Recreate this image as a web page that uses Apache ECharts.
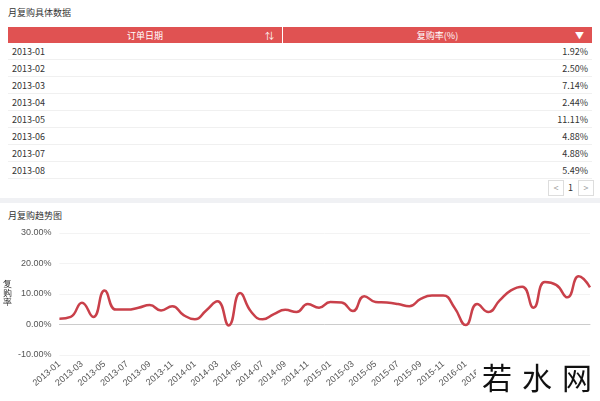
<!DOCTYPE html>
<html><head><meta charset="utf-8">
<script src="https://cdn.jsdelivr.net/npm/echarts@6/dist/echarts.min.js"></script>
<style>
body{margin:0;width:600px;height:401px;background:#f0f1f4;font-family:"Noto Sans CJK SC","Noto Sans",sans-serif;overflow:hidden;position:relative}
#top{position:absolute;left:0;top:0;width:600px;height:198px;background:#fff}
#bot{position:absolute;left:0;top:203px;width:600px;height:198px;background:#fff}
.title{position:absolute;left:8px;font-size:9px;color:#333}
table{position:absolute;left:8px;top:27px;width:584px;border-collapse:collapse;font-size:9px;color:#333}
th{background:#e05252;color:#fff;font-weight:normal;height:16px;padding:0 6px;position:relative}
td{height:16px;padding:0 4px;border-bottom:1px solid #f0f0f0}
td.v{text-align:right}
.pg{position:absolute;top:180px;font-size:9px;color:#999;width:14px;height:14px;border:1px solid #ddd;text-align:center;line-height:14px}
#chart{position:absolute;left:0;top:220px;width:600px;height:181px}
#wm{position:absolute;left:476px;top:358px;width:124px;height:43px;background:#fff;font-size:30px;letter-spacing:10px;color:#111;font-family:"Noto Sans CJK SC";line-height:36px;white-space:nowrap;padding-left:6px;box-sizing:border-box}
</style></head><body>
<div id="top">
<div class="title" style="top:6px">月复购具体数据</div>
<table id="tb"></table>
<div class="pg" style="left:548px">&lt;</div>
<div style="position:absolute;left:568px;top:181px;font-size:9px;color:#333">1</div>
<div class="pg" style="left:578px">&gt;</div>
</div>
<div id="bot"><div class="title" style="top:6px">月复购趋势图</div></div>
<div id="chart"></div>
<div id="wm">若水网</div>
<script>
const tableDates=['2013-01','2013-02','2013-03','2013-04','2013-05','2013-06','2013-07','2013-08'];
const tableRates=['1.92%','2.50%','7.14%','2.44%','11.11%','4.88%','4.88%','5.49%'];
const months=[];
for(let y=2013;y<=2016;y++)for(let m=1;m<=12;m++)months.push(y+'-'+String(m).padStart(2,'0'));
const rates=[1.92,2.5,7.14,2.44,11.11,4.88,4.88,5.49,6.4,4.6,6.0,3.1,1.7,4.6,7.6,-0.3,10.3,4.1,1.7,3.4,4.8,4.1,6.7,5.5,7.4,7.2,4.4,9.3,7.4,7.2,6.7,6.0,8.4,9.5,9.5,5.5,-0.2,6.7,4.1,7.9,11.2,12.4,5.5,13.9,13.0,8.9,15.8,12.2];
let h='<tr><th style="width:47%">订单日期<span style="position:absolute;right:8px">⇅</span></th><th style="border-left:1px solid #fff">复购率(%)<span style="position:absolute;right:8px">▼</span></th></tr>';
tableDates.forEach((d,i)=>{h+='<tr><td>'+d+'</td><td class="v">'+tableRates[i]+'</td></tr>';});
document.getElementById('tb').innerHTML=h;
const c=echarts.init(document.getElementById('chart'));
c.setOption({
 animation:false,
 grid:{left:52,right:10,top:13,bottom:46},
 xAxis:{type:'category',data:months,boundaryGap:false,
  axisLine:{lineStyle:{color:'#ccc'}},axisTick:{show:false},
  axisLabel:{interval:1,rotate:40,fontSize:9,color:'#555'}},
 yAxis:{type:'value',min:-10,max:30,interval:10,name:'复\n购\n率',nameLocation:'middle',nameRotate:0,nameGap:38,
  nameTextStyle:{fontSize:9,color:'#333'},
  axisLabel:{fontSize:9,color:'#555',formatter:v=>v.toFixed(2)+'%'},
  splitLine:{lineStyle:{color:'#f3f3f3'}},axisLine:{show:false}},
 series:[{type:'line',data:rates,smooth:true,showSymbol:false,lineStyle:{color:'#c9404a',width:2.5}}]
});
</script></body></html>
